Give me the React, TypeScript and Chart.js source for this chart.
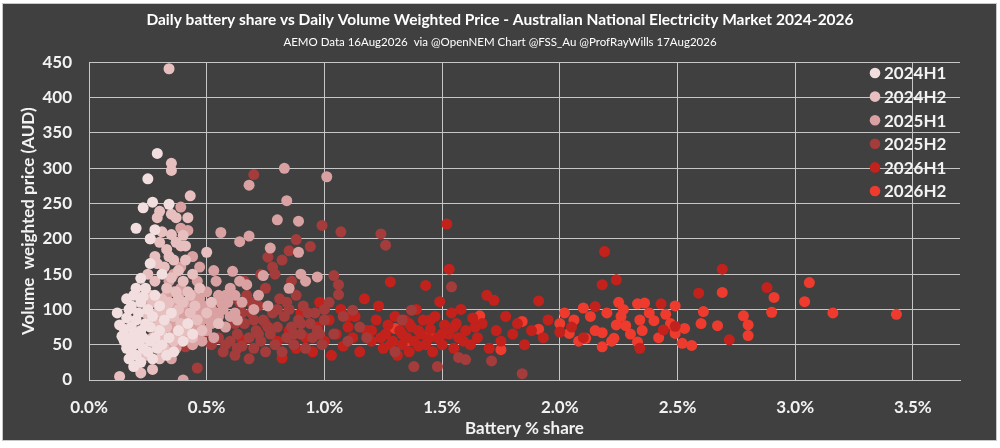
import React, { useEffect, useRef } from 'react';
import { Chart, registerables } from 'chart.js';

Chart.register(...registerables);

// [battery % share, volume weighted price AUD]
const pts2024H1: [number, number][] = [
  [0.12, 95], [0.13, 78], [0.14, 62], [0.15, 55], [0.15, 72], [0.16, 45], [0.16, 88], [0.17, 30],
  [0.17, 60], [0.18, 40], [0.18, 75], [0.18, 105], [0.19, 50], [0.19, 65], [0.19, 120], [0.2, 35],
  [0.2, 85], [0.2, 215], [0.21, 55], [0.21, 95], [0.22, 144], [0.22, 25], [0.22, 70], [0.22, 110],
  [0.23, 45], [0.23, 60], [0.23, 244], [0.23, 118], [0.24, 80], [0.24, 130], [0.26, 200], [0.25, 40],
  [0.25, 100], [0.25, 285], [0.26, 55], [0.26, 75], [0.26, 165], [0.27, 30], [0.27, 90], [0.27, 252],
  [0.28, 60], [0.28, 120], [0.28, 213], [0.29, 321], [0.29, 45], [0.3, 70], [0.3, 105], [0.31, 50],
  [0.31, 150], [0.32, 85], [0.33, 35], [0.34, 249], [0.34, 60], [0.35, 95], [0.36, 40], [0.38, 70],
  [0.4, 55], [0.42, 80], [0.44, 65], [0.19, 19], [0.17, 100], [0.2, 130], [0.16, 115],
];

const pts2024H2: [number, number][] = [
  [0.13, 5], [0.2, 20], [0.22, 10], [0.24, 35], [0.25, 150], [0.26, 120], [0.27, 60], [0.28, 140],
  [0.28, 175], [0.29, 95], [0.29, 230], [0.3, 80], [0.3, 239], [0.3, 195], [0.31, 115], [0.31, 65],
  [0.32, 160], [0.32, 100], [0.33, 130], [0.33, 185], [0.33, 75], [0.34, 441], [0.34, 110], [0.35, 307],
  [0.35, 297], [0.35, 206], [0.35, 145], [0.36, 90], [0.36, 170], [0.36, 55], [0.37, 125], [0.37, 230],
  [0.38, 100], [0.38, 155], [0.38, 65], [0.39, 190], [0.39, 80], [0.4, 140], [0.4, 110], [0.41, 170],
  [0.41, 70], [0.42, 125], [0.43, 261], [0.43, 95], [0.44, 150], [0.44, 60], [0.45, 105], [0.46, 85],
  [0.47, 130], [0.48, 70], [0.5, 181], [0.5, 95], [0.52, 110], [0.55, 80], [0.3, 30], [0.27, 15],
  [0.32, 45], [0.24, 95], [0.26, 200], [0.31, 210], [0.37, 195], [0.4, 205], [0.35, 235], [0.42, 230],
  [0.38, 115], [0.41, 190], [0.43, 120], [0.29, 165], [0.34, 175], [0.27, 110],
];

const pts2025H1: [number, number][] = [
  [0.25, 110], [0.27, 85], [0.28, 50], [0.29, 70], [0.3, 100], [0.31, 40], [0.32, 60], [0.32, 90],
  [0.33, 120], [0.34, 75], [0.34, 50], [0.35, 100], [0.35, 30], [0.36, 65], [0.36, 85], [0.37, 110],
  [0.37, 45], [0.38, 95], [0.38, 70], [0.39, 55], [0.39, 130], [0.4, 80], [0.4, 100], [0.4, 0],
  [0.41, 60], [0.39, 215], [0.39, 245], [0.42, 212], [0.43, 70], [0.43, 110], [0.44, 50], [0.44, 85],
  [0.45, 120], [0.45, 95], [0.46, 65], [0.46, 140], [0.47, 80], [0.48, 105], [0.48, 55], [0.49, 90],
  [0.5, 70], [0.5, 125], [0.51, 85], [0.52, 100], [0.53, 60], [0.54, 140], [0.55, 90], [0.56, 209],
  [0.56, 110], [0.58, 75], [0.6, 130], [0.61, 154], [0.62, 95], [0.64, 196], [0.65, 110], [0.67, 135],
  [0.68, 204], [0.68, 276], [0.7, 100], [0.72, 120], [0.74, 148], [0.77, 187], [0.8, 227], [0.83, 300],
  [0.84, 254], [0.89, 225], [0.89, 181], [0.9, 150], [0.92, 140], [0.97, 146], [1.01, 288], [0.53, 155],
  [0.47, 160], [0.58, 120], [0.63, 85], [0.76, 105], [0.85, 130], [0.39, 160], [0.36, 150], [0.44, 175],
  [0.33, 95], [0.35, 80], [0.37, 60], [0.38, 120], [0.4, 90], [0.41, 110], [0.42, 65], [0.43, 85],
  [0.45, 75], [0.46, 100], [0.47, 115], [0.49, 70], [0.5, 105], [0.52, 80], [0.54, 95], [0.55, 120],
  [0.57, 100], [0.59, 110], [0.6, 90], [0.62, 120], [0.64, 140], [0.34, 140], [0.36, 125], [0.31, 80],
];

const pts2025H2: [number, number][] = [
  [0.29, 46], [0.39, 64], [0.41, 47], [0.46, 17], [0.5, 68], [0.45, 55], [0.52, 50], [0.55, 60],
  [0.57, 40], [0.58, 75], [0.6, 55], [0.61, 90], [0.62, 35], [0.63, 65], [0.64, 110], [0.65, 48],
  [0.66, 80], [0.67, 120], [0.68, 30], [0.68, 60], [0.69, 95], [0.7, 291], [0.7, 45], [0.71, 70],
  [0.72, 105], [0.73, 55], [0.74, 85], [0.75, 40], [0.75, 130], [0.76, 174], [0.78, 160], [0.77, 65],
  [0.78, 95], [0.79, 150], [0.79, 50], [0.8, 75], [0.81, 115], [0.82, 170], [0.82, 40], [0.85, 183],
  [0.83, 90], [0.84, 60], [0.85, 100], [0.86, 75], [0.87, 50], [0.88, 199], [0.88, 120], [0.89, 85],
  [0.9, 65], [0.91, 105], [0.92, 45], [0.94, 189], [0.94, 80], [0.95, 60], [0.96, 95], [0.97, 70],
  [0.99, 219], [0.99, 50], [1.0, 85], [1.02, 110], [1.04, 148], [1.04, 65], [1.06, 135], [1.06, 121],
  [1.07, 210], [1.08, 90], [1.1, 55], [1.12, 99], [1.15, 75], [1.18, 60], [1.24, 207], [1.26, 191],
  [1.3, 40], [1.33, 85], [1.37, 99], [1.38, 19], [1.48, 19], [1.54, 132], [1.57, 32], [1.6, 29],
  [1.71, 27], [1.84, 9], [0.56, 100], [0.66, 140], [0.6, 125], [0.73, 150], [0.86, 140],
  [0.62, 80], [0.65, 95], [0.7, 85], [0.72, 65], [0.76, 75], [0.8, 100], [0.84, 110], [0.87, 65],
  [0.9, 80], [0.93, 95], [0.98, 65], [1.0, 100], [0.58, 50], [0.63, 45], [0.69, 110],
];

const pts2026H1: [number, number][] = [
  [0.65, 57], [0.75, 80], [0.82, 31], [0.8, 55], [0.85, 70], [0.88, 45], [0.9, 95], [0.92, 60],
  [0.95, 40], [0.97, 75], [0.98, 110], [1.0, 55], [1.02, 85], [1.03, 35], [1.05, 65], [1.07, 100],
  [1.08, 48], [1.1, 75], [1.12, 60], [1.13, 90], [1.15, 40], [1.17, 115], [1.18, 70], [1.2, 55],
  [1.22, 85], [1.23, 105], [1.25, 45], [1.26, 65], [1.27, 78], [1.28, 139], [1.29, 55], [1.3, 90],
  [1.31, 35], [1.32, 70], [1.33, 50], [1.34, 85], [1.35, 60], [1.36, 40], [1.37, 75], [1.38, 55],
  [1.39, 100], [1.4, 48], [1.41, 65], [1.42, 85], [1.43, 134], [1.44, 58], [1.45, 72], [1.46, 40],
  [1.47, 90], [1.48, 60], [1.49, 111], [1.5, 50], [1.51, 78], [1.52, 221], [1.53, 157], [1.53, 65],
  [1.54, 95], [1.55, 45], [1.56, 80], [1.57, 60], [1.58, 100], [1.6, 70], [1.62, 50], [1.63, 88],
  [1.65, 60], [1.67, 80], [1.69, 120], [1.7, 45], [1.72, 113], [1.73, 70], [1.75, 55], [1.77, 90],
  [1.8, 65], [1.82, 80], [1.85, 50], [1.88, 70], [1.91, 112], [1.93, 60], [1.95, 85], [2.0, 68],
  [2.05, 75], [2.1, 60], [2.15, 104], [2.18, 135], [2.19, 182], [2.24, 142], [2.34, 45], [2.43, 108],
  [2.44, 71], [2.49, 76], [2.59, 123], [2.69, 157], [2.72, 57], [2.88, 131],
  [1.1, 90], [1.2, 70], [1.24, 60], [1.28, 50], [1.33, 65], [1.36, 80], [1.4, 70], [1.43, 50],
  [1.45, 85], [1.5, 65], [1.55, 75], [1.59, 55], [1.64, 75],
];

const pts2026H2: [number, number][] = [
  [1.3, 73], [1.35, 55], [1.45, 62], [1.66, 91], [1.75, 43], [1.84, 83], [1.91, 72], [2.0, 80],
  [2.04, 66], [2.08, 55], [2.11, 59], [2.13, 90], [2.15, 70], [2.18, 67], [2.18, 47], [2.2, 95],
  [2.22, 55], [2.23, 59], [2.24, 78], [2.25, 110], [2.27, 100], [2.28, 77], [2.3, 65], [2.33, 108],
  [2.33, 54], [2.34, 85], [2.35, 70], [2.36, 109], [2.38, 95], [2.4, 84], [2.42, 60], [2.45, 93],
  [2.47, 80], [2.49, 105], [2.49, 71], [2.49, 66], [2.52, 52], [2.53, 73], [2.56, 49], [2.6, 80],
  [2.61, 97], [2.67, 77], [2.69, 124], [2.78, 91], [2.8, 78], [2.8, 63], [2.9, 96], [2.91, 117],
  [3.04, 111], [3.06, 138], [3.16, 95], [3.43, 93], [2.02, 95], [2.06, 85], [2.1, 102], [2.26, 90],
];

const seriesNames = ['2024H1', '2024H2', '2025H1', '2025H2', '2026H1', '2026H2'];
const seriesPoints = [pts2024H1, pts2024H2, pts2025H1, pts2025H2, pts2026H1, pts2026H2];
const seriesColors = ['#f2dede', '#e8bfbf', '#d9a1a1', '#a43c3b', '#c3221c', '#ef3b2e'];

const xTickMax = 3.7;
const yTickMax = 450;

const FONT = 'Lato';
const GRID = '#c6c6c6';
const TEXT = '#f2f2f2';

// legend sits inside the plot area, top right
const legendPlugin = {
  id: 'insideLegend',
  afterDraw(chart: Chart) {
    const ctx = chart.ctx;
    ctx.save();
    ctx.font = `bold 17px ${FONT}`;
    ctx.textBaseline = 'middle';
    ctx.textAlign = 'left';
    chart.data.datasets.forEach((ds, i) => {
      const y = 73 + i * 23.6;
      ctx.beginPath();
      ctx.arc(875, y, 5.3, 0, Math.PI * 2);
      ctx.fillStyle = ds.backgroundColor as string;
      ctx.fill();
      ctx.fillStyle = TEXT;
      ctx.fillText(ds.label || '', 884, y + 1);
    });
    ctx.restore();
  },
};

const ScatterChart: React.FC = () => {
  const canvasRef = useRef<HTMLCanvasElement>(null);

  useEffect(() => {
    if (!canvasRef.current) return;
    const chart = new Chart(canvasRef.current, {
      type: 'scatter',
      data: {
        datasets: seriesNames.map((name, i) => ({
          label: name,
          data: seriesPoints[i].map(([x, y]) => ({ x, y })),
          backgroundColor: seriesColors[i],
          borderWidth: 0,
          pointRadius: 5.5,
        })),
      },
      options: {
        responsive: true,
        maintainAspectRatio: false,
        animation: false,
        events: [],
        // symmetric side padding keeps the titles centred on the page
        layout: { padding: { top: 4, left: 40, right: 40, bottom: 7 } },
        plugins: {
          legend: { display: false },
          tooltip: { enabled: false },
          title: {
            display: true,
            text: 'Daily battery share vs Daily Volume Weighted Price - Australian National Electricity Market 2024-2026',
            color: '#ffffff',
            font: { family: FONT, size: 15.5, weight: 'bold' },
            padding: { top: 7, bottom: 2 },
          },
          subtitle: {
            display: true,
            text: 'AEMO Data 16Aug2026  via @OpenNEM Chart @FSS_Au @ProfRayWills 17Aug2026',
            color: '#ffffff',
            font: { family: FONT, size: 11.5 },
            padding: { top: 4, bottom: 13 },
          },
        },
        scales: {
          x: {
            type: 'linear',
            min: 0,
            max: xTickMax,
            afterBuildTicks: (scale) => {
              scale.ticks = scale.ticks.filter((t) => Math.abs(t.value * 2 - Math.round(t.value * 2)) < 1e-6);
            },
            afterFit: (scale) => {
              scale.height = 61;
            },
            ticks: {
              stepSize: 0.5,
              padding: 17,
              color: TEXT,
              font: { family: FONT, size: 17, weight: 'bold' },
              callback: (v) => Number(v).toFixed(1) + '%',
            },
            grid: { color: GRID, lineWidth: 1, drawTicks: false },
            border: { color: GRID },
            title: {
              display: true,
              text: 'Battery % share',
              color: TEXT,
              font: { family: FONT, size: 17, weight: 'bold' },
              padding: { top: 0, bottom: 2 },
            },
          },
          y: {
            min: 0,
            max: yTickMax,
            afterFit: (scale) => {
              scale.width = 49;
            },
            ticks: {
              stepSize: 50,
              padding: 17,
              color: TEXT,
              font: { family: FONT, size: 17, weight: 'bold' },
            },
            grid: { color: GRID, lineWidth: 1, drawTicks: false },
            border: { color: GRID },
            title: {
              display: true,
              text: 'Volume  weighted price (AUD)',
              color: TEXT,
              font: { family: FONT, size: 17, weight: 'bold' },
              padding: { top: -22, bottom: 0 },
            },
          },
        },
      },
      plugins: [legendPlugin],
    });
    return () => chart.destroy();
  }, []);

  return (
    <div style={{ position: 'absolute', left: 0, top: 0, width: 1000, height: 448 }}>
      <canvas ref={canvasRef}></canvas>
    </div>
  );
};

export default function App() {
  return (
    <div style={{ position: 'absolute', left: 0, top: 0, width: 1000, height: 448, background: '#ffffff' }}>
      <div
        style={{
          position: 'absolute',
          left: 2,
          top: 3,
          width: 995,
          height: 438,
          boxSizing: 'border-box',
          background: '#404040',
          border: '1px solid #c8c8c8',
        }}
      />
      <ScatterChart />
    </div>
  );
}
